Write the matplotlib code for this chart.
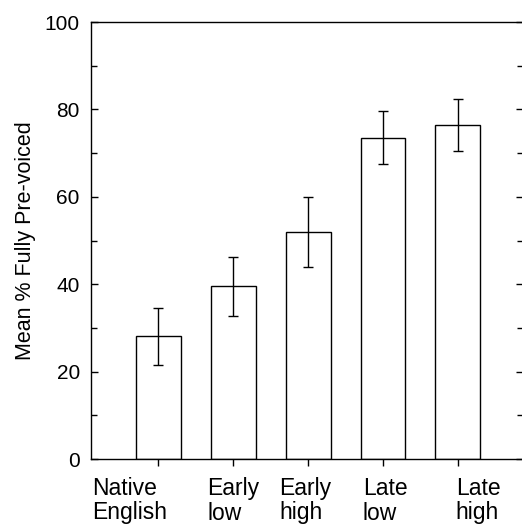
import matplotlib.pyplot as plt
from matplotlib.ticker import MultipleLocator
import matplotlib.transforms as mtransforms

plt.rcParams['font.family'] = ['Liberation Sans', 'DejaVu Sans']

# group labels, means and error-bar ends
groups = ['Native\nEnglish', 'Early\nlow', 'Early\nhigh', 'Late\nlow', 'Late\nhigh']
means = [28.2, 39.5, 52.0, 73.5, 76.4]
err_hi = [34.6, 46.3, 60.0, 79.7, 82.3]
err_lo = [21.5, 32.8, 44.0, 67.4, 70.6]
# left edge of each label (data units), labels are not centred on ticks
label_x = [0.12, 1.65, 2.61, 3.73, 4.97]

pos = list(range(1, len(groups) + 1))
yerr = [[m - lo for m, lo in zip(means, err_lo)],
        [hi - m for m, hi in zip(means, err_hi)]]

fig = plt.figure(figsize=(5.22, 5.25), dpi=100)
ax = fig.add_axes([0.1743, 0.1257, 1.002 - 0.1743, 0.958 - 0.1257])

ax.bar(pos, means, width=0.6, color='white', edgecolor='black', linewidth=1.0)
ax.errorbar(pos, means, yerr=yerr, fmt='none', ecolor='black',
            elinewidth=1.0, capsize=3.5, capthick=1.0)

ax.set_xlim(0.1, 5.87)
ax.set_ylim(0, 100)
ax.yaxis.set_major_locator(MultipleLocator(20))
ax.yaxis.set_minor_locator(MultipleLocator(10))
ax.tick_params(axis='y', which='both', direction='in', right=True,
               labelsize=15, width=1.0, pad=8)
ax.tick_params(axis='y', which='major', length=5)
ax.tick_params(axis='y', which='minor', length=4)
ax.tick_params(axis='x', direction='out', length=5, width=1.0)
ax.set_xticks(pos)
ax.set_xticklabels([])

trans = mtransforms.blended_transform_factory(ax.transData, fig.transFigure)
for x, g in zip(label_x, groups):
    ax.text(x, 0.092, g, transform=trans, ha='left', va='top',
            fontsize=16.5, linespacing=1.1)

for s in ax.spines.values():
    s.set_linewidth(1.0)

ax.set_ylabel('Mean % Fully Pre-voiced', fontsize=15.5, labelpad=6)

fig.savefig('out.png', dpi=100)
